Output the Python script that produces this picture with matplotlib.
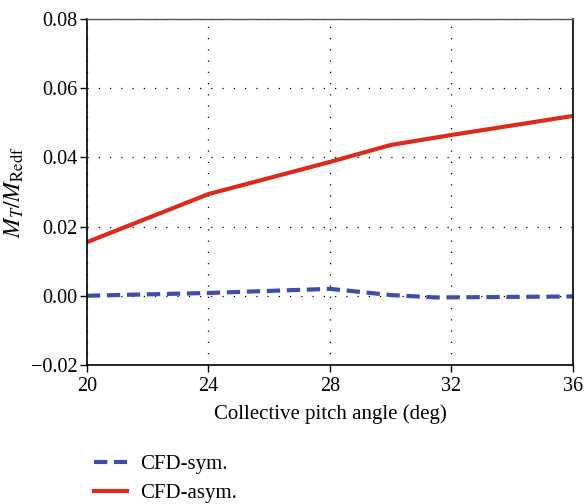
import matplotlib
matplotlib.use("Agg")
import matplotlib.pyplot as plt

# Data
pitch_sym = [20, 24, 28, 30, 31.5, 36]
mt_sym = [0.0000, 0.0008, 0.0020, 0.0002, -0.0005, -0.0002]
pitch_asym = [20, 24, 28, 30, 32, 36]
mt_asym = [0.0155, 0.0294, 0.0387, 0.0436, 0.0465, 0.0520]
x_ticks = [20, 24, 28, 32, 36]
y_ticks = [-0.02, 0.00, 0.02, 0.04, 0.06, 0.08]

plt.rcParams['font.family'] = ['Liberation Serif', 'DejaVu Serif']
plt.rcParams['mathtext.fontset'] = 'stix'

fig = plt.figure(figsize=(5.87, 5.04), dpi=100)
ax = fig.add_axes([0.148, 0.276, 0.828, 0.686])

ax.plot(pitch_sym, mt_sym, color='#3f4dab', lw=3.0, ls=(0, (3.2, 1.6)), label='CFD-sym.')
ax.plot(pitch_asym, mt_asym, color='#dc2a1b', lw=3.0, label='CFD-asym.')

ax.set_xlim(20, 36)
ax.set_ylim(-0.02, 0.08)
ax.set_xticks(x_ticks)
ax.set_yticks(y_ticks)
ax.set_yticklabels(['\u22120.02', '0.00', '0.02', '0.04', '0.06', '0.08'])
ax.tick_params(axis='both', direction='out', length=5, width=1, labelsize=14.5, colors='black')
ax.tick_params(axis='y', pad=2)
ax.grid(True, ls=(0, (1, 8)), color='black', lw=0.9)

for s in ['left', 'bottom', 'right']:
    ax.spines[s].set_color('black')
    ax.spines[s].set_linewidth(1.2)
ax.spines['top'].set_color('#555555')
ax.spines['top'].set_linewidth(1.0)

ax.set_xlabel('Collective pitch angle (deg)', fontsize=15, labelpad=6)
ax.set_ylabel(r'$M_T/M_{\mathrm{Redf}}$', fontsize=17, labelpad=3)

fig.legend(loc='upper left', bbox_to_anchor=(0.135, 0.127), frameon=False,
           fontsize=15, handlelength=1.6, handletextpad=0.6, labelspacing=0.45,
           borderpad=0.2)

fig.savefig('out.png', dpi=100)
